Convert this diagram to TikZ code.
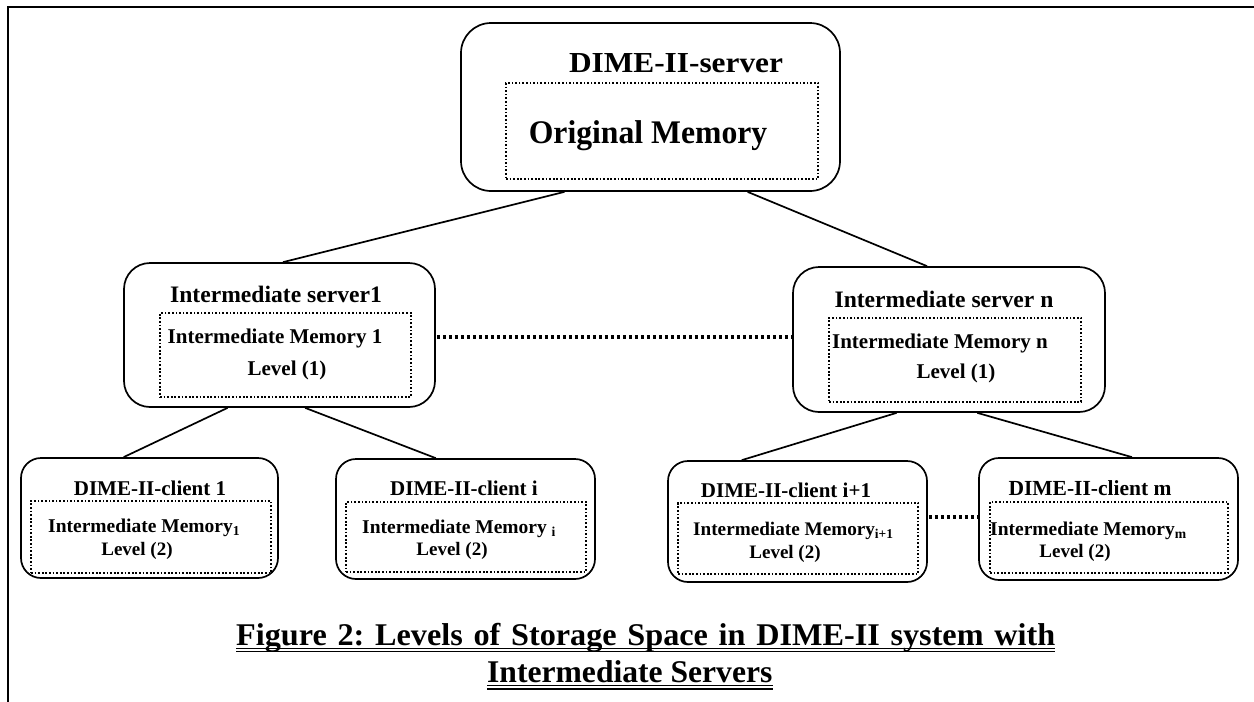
\documentclass[tikz,border=0pt]{standalone}
\usepackage{graphicx}
\usepackage{fontspec}
\setmainfont{Liberation Serif}
\usetikzlibrary{calc}
\newcommand\sxs[2]{\scalebox{#1}[1]{#2}}
\frenchspacing
\begin{document}
\begin{tikzpicture}[x=1pt,y=-1pt,
  frame/.style={line width=1.8pt},
  box/.style={draw, line width=1.7pt, rounded corners=#1, inner sep=0pt},
  dotbox/.style={draw, line width=1.7pt, dash pattern=on 1.7pt off 1.9pt, inner sep=0pt},
  conn/.style={line width=1.7pt},
  dotline/.style={line width=3.4pt, dash pattern=on 3.4pt off 2.6pt},
  txt/.style={inner sep=0pt, anchor=base, font=\bfseries\fontsize{#1}{#1}\selectfont},
  txtl/.style={inner sep=0pt, anchor=base west, font=\bfseries\fontsize{#1}{#1}\selectfont},
  uline/.style={line width=1.5pt}
]
\path[use as bounding box] (0,0) rectangle (1254,702);
\draw[frame] (8,702) -- (8,7) -- (1254,7);

% boxes
\node[box=30, minimum width=379, minimum height=168] (srv) at (650.5,107) {};
\node[dotbox, minimum width=312, minimum height=96] (srvmem) at (662,131) {};

\node[box=26, minimum width=311, minimum height=144] (is1) at (279.5,335) {};
\node[dotbox, minimum width=251, minimum height=84] (is1mem) at (285.5,355) {};

\node[box=26, minimum width=312, minimum height=145] (isn) at (949,339.5) {};
\node[dotbox, minimum width=252, minimum height=84] (isnmem) at (955,360) {};

\node[box=20, minimum width=257, minimum height=120] (c1) at (149.5,518) {};
\node[dotbox, minimum width=240, minimum height=72] (c1mem) at (151,537) {};

\node[box=20, minimum width=259, minimum height=120] (ci) at (465.5,519) {};
\node[dotbox, minimum width=240, minimum height=70] (cimem) at (466,537) {};

\node[box=20, minimum width=259, minimum height=121] (cj) at (797.5,521.5) {};
\node[dotbox, minimum width=240, minimum height=71] (cjmem) at (798,538.5) {};

\node[box=20, minimum width=259, minimum height=122] (cm) at (1108.5,519) {};
\node[dotbox, minimum width=238, minimum height=71] (cmmem) at (1109,537.5) {};

% texts
\node[txt=29] (tsrv) at (676,72) {\sxs{1.08}{DIME-II-server}};
\node[txt=33] (tmem) at (648,143) {\sxs{0.96}{Original Memory}};

\node[txt=23.6] (tis1a) at (276,302) {Intermediate server1};
\node[txt=21] (tis1b) at (275,343) {Intermediate Memory 1};
\node[txt=21] (tis1c) at (287,375) {Level (1)};

\node[txt=23.6] (tisna) at (944,307) {Intermediate server n};
\node[txt=21] (tisnb) at (940,348) {Intermediate Memory n};
\node[txt=21] (tisnc) at (956,378) {Level (1)};

\node[txt=21] (tc1a) at (150,495) {DIME-II-client 1};
\node[txtl=19.5] (tc1b) at (48,532) {Intermediate Memory\textsubscript{1}};
\node[txt=19] (tc1c) at (137,555) {Level (2)};

\node[txt=21] (tcia) at (464,495) {DIME-II-client i};
\node[txtl=19.5] (tcib) at (362,533) {Intermediate Memory \textsubscript{i}};
\node[txt=19] (tcic) at (452,555) {Level (2)};

\node[txt=21] (tcja) at (786,497) {DIME-II-client i+1};
\node[txtl=19.2] (tcjb) at (693,535) {Intermediate Memory\textsubscript{i+1}};
\node[txt=19] (tcjc) at (785,558) {Level (2)};

\node[txt=21.5] (tcma) at (1090,495) {DIME-II-client m};
\node[txtl=19.5] (tcmb) at (990,535) {Intermediate Memory\textsubscript{m}};
\node[txt=19] (tcmc) at (1075,557) {Level (2)};

% connectors
\draw[conn] ($(srv.south west)!0.274!(srv.south east)$) -- ($(is1.north west)!0.511!(is1.north east)$);
\draw[conn] ($(srv.south west)!0.755!(srv.south east)$) -- ($(isn.north west)!0.43!(isn.north east)$);
\draw[conn] ($(is1.south west)!0.334!(is1.south east)$) -- ($(c1.north west)!0.40!(c1.north east)$);
\draw[conn] ($(is1.south west)!0.582!(is1.south east)$) -- ($(ci.north west)!0.386!(ci.north east)$);
\draw[conn] ($(isn.south west)!0.333!(isn.south east)$) -- ($(cj.north west)!0.286!(cj.north east)$);
\draw[conn] ($(isn.south west)!0.59!(isn.south east)$) -- ($(cm.north west)!0.59!(cm.north east)$);

\coordinate (d1) at ($(is1.east)+(1,2)$);
\draw[dotline] (d1) -- (d1 -| isn.west);
\coordinate (d2) at ($(cj.east)+(1,-4.5)$);
\draw[dotline] (d2) -- (d2 -| cm.west);

% caption
\node[txtl=31.6] (cap1) at (236,645) {\sxs{1.02}{\makebox[803pt][s]{Figure 2: Levels of Storage Space in DIME-II system with}}};
\node[txtl=31.6] (cap2) at (487,682) {Intermediate Servers};
\draw[uline] ($(cap1.base west)+(0,3.3)$) -- ($(cap1.base east)+(0,3.3)$);
\draw[uline] ($(cap1.base west)+(0,6.7)$) -- ($(cap1.base east)+(0,6.7)$);
\draw[uline] ($(cap2.base west)+(0,3.6)$) -- ($(cap2.base east)+(0,3.6)$);
\draw[uline] ($(cap2.base west)+(0,7)$) -- ($(cap2.base east)+(0,7)$);
\end{tikzpicture}
\end{document}
